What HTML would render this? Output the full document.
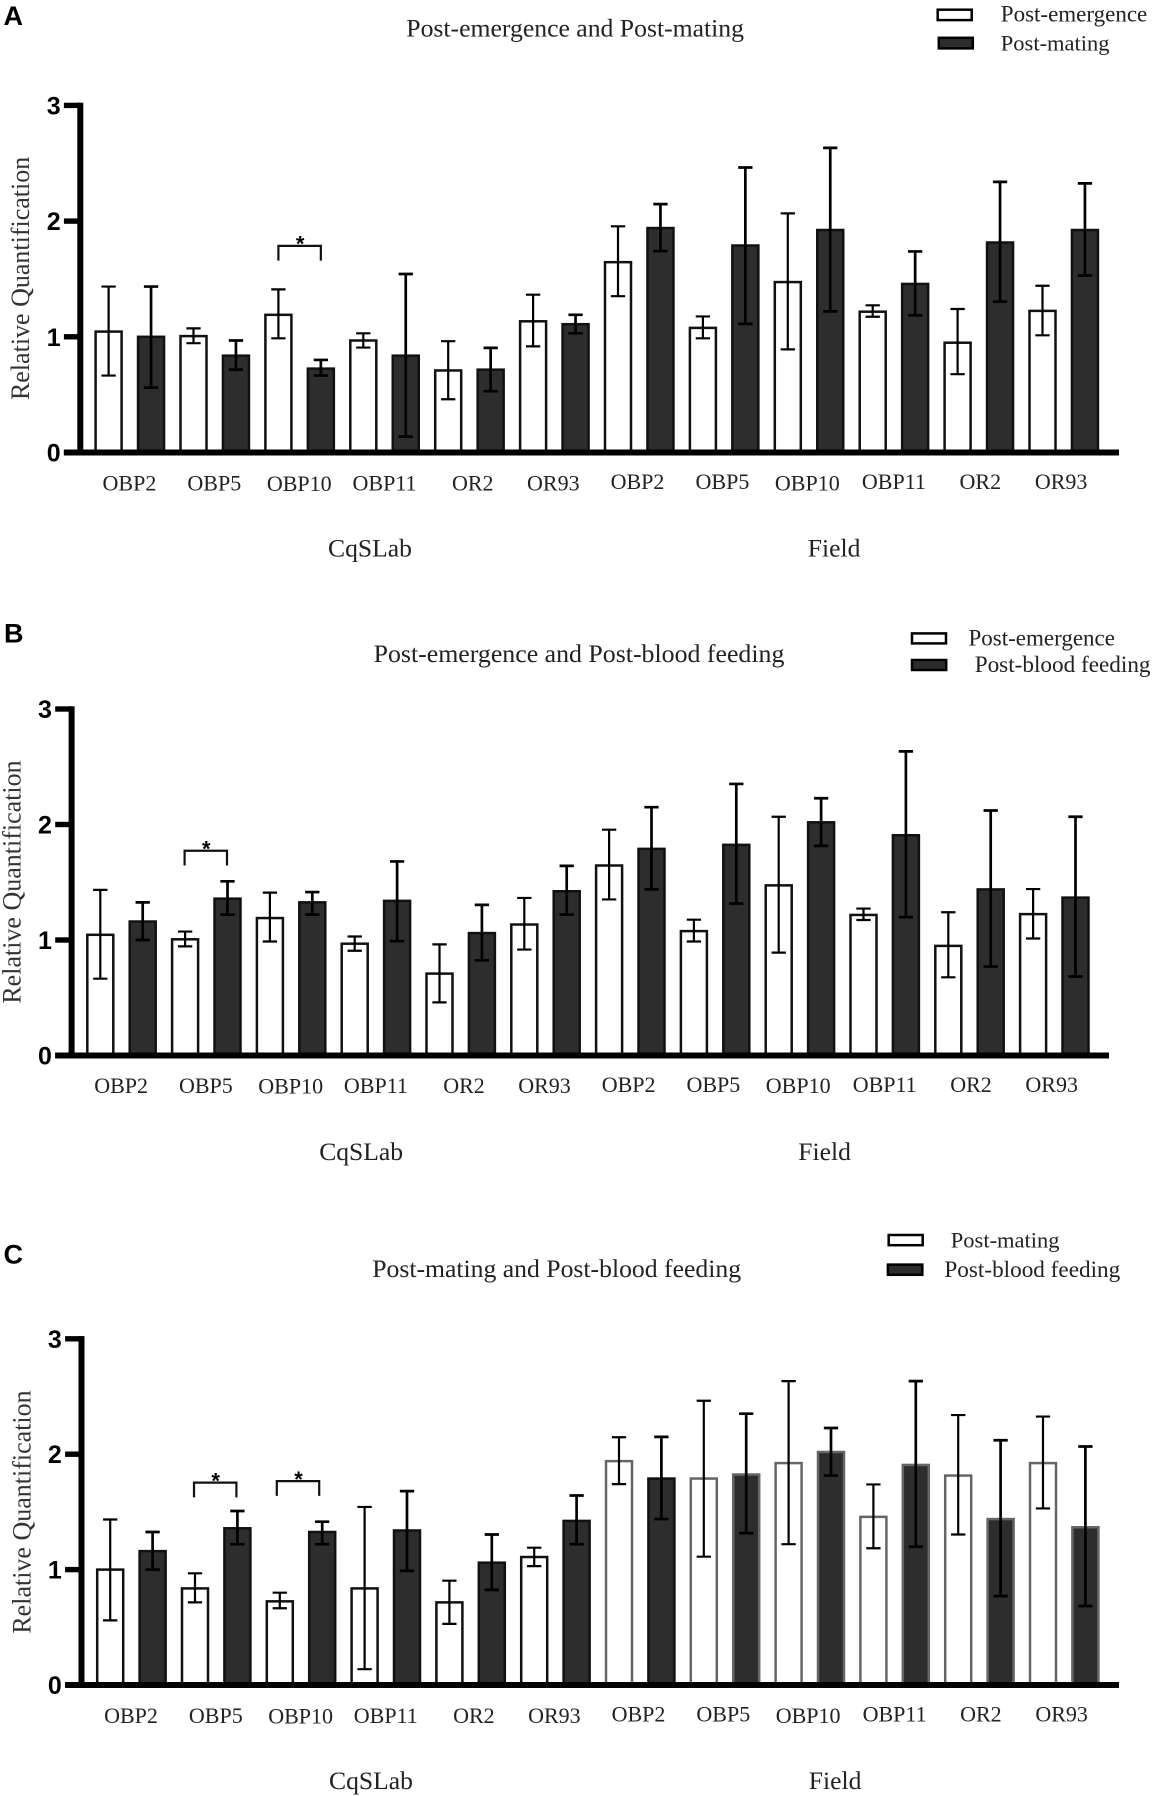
<!DOCTYPE html>
<html lang="en">
<head>
<meta charset="utf-8">
<title>Relative quantification of OBP and OR genes</title>
<style>
  html, body { margin: 0; padding: 0; background: #fff; }
  svg { display: block; }
  .serif { font-family: "Liberation Serif", serif; fill: #222; }
  .sans { font-family: "Liberation Sans", sans-serif; fill: #000; font-weight: bold; }
  .title { font-size: 25.7px; }
  .legend-text { font-size: 23px; }
  .group { font-size: 25.6px; }
  .ytitle { font-size: 26px; fill: #333; }
  .xlabel { font-size: 22px; }
  .letter { font-size: 27px; }
  .ytick { font-size: 25px; }
</style>
</head>
<body>
<svg id="figure" xmlns="http://www.w3.org/2000/svg" width="1153" height="1796" viewBox="0 0 1153 1796">
  <rect x="0" y="0" width="1153" height="1796" fill="#fff"/>

  <g id="panel-a">
    <text class="sans letter" x="3.5" y="25">A</text>
    <text class="serif title" x="406.3" y="36.3">Post-emergence and Post-mating</text>
    <rect x="937.7" y="9.7" width="34" height="10.4" fill="#fff" stroke="#000" stroke-width="2.5"/>
    <rect x="938.8" y="37.8" width="34" height="10.6" fill="#2d2d2d" stroke="#000" stroke-width="2.5"/>
    <text class="serif legend-text" x="1000.8" y="21.5">Post-emergence</text>
    <text class="serif legend-text" x="1000.8" y="50.3" style="font-size:22.5px">Post-mating</text>
    <text class="serif ytitle" text-anchor="middle" transform="translate(29 278.4) rotate(-90)">Relative Quantification</text>
    <text class="serif group" x="328" y="556.5">CqSLab</text>
    <text class="serif group" x="807.8" y="556.5">Field</text>
  </g>

  <g id="panel-b">
    <text class="sans letter" x="4" y="642.4">B</text>
    <text class="serif title" x="373.6" y="661.8" style="font-size:25.85px">Post-emergence and Post-blood feeding</text>
    <rect x="912" y="633.4" width="34" height="10" fill="#fff" stroke="#000" stroke-width="2.5"/>
    <rect x="912" y="660" width="34.2" height="10" fill="#2d2d2d" stroke="#000" stroke-width="2.5"/>
    <text class="serif legend-text" x="968.5" y="645.5">Post-emergence</text>
    <text class="serif legend-text" x="974.7" y="672.2" style="font-size:23.2px">Post-blood feeding</text>
    <text class="serif ytitle" text-anchor="middle" transform="translate(20.5 882) rotate(-90)">Relative Quantification</text>
    <text class="serif group" x="319.2" y="1160">CqSLab</text>
    <text class="serif group" x="798.3" y="1160">Field</text>
  </g>

  <g id="panel-c">
    <text class="sans letter" x="3.5" y="1263.5">C</text>
    <text class="serif title" x="372.2" y="1277">Post-mating and Post-blood feeding</text>
    <rect x="888.7" y="1235" width="34" height="10.2" fill="#fff" stroke="#000" stroke-width="2.5"/>
    <rect x="887.9" y="1264.6" width="34.4" height="10.2" fill="#2d2d2d" stroke="#000" stroke-width="2.5"/>
    <text class="serif legend-text" x="950.8" y="1247.4" style="font-size:22.5px">Post-mating</text>
    <text class="serif legend-text" x="944.4" y="1277" style="font-size:23.2px">Post-blood feeding</text>
    <text class="serif ytitle" text-anchor="middle" transform="translate(30.6 1512) rotate(-90)">Relative Quantification</text>
    <text class="serif group" x="329" y="1789">CqSLab</text>
    <text class="serif group" x="808.8" y="1789">Field</text>
  </g>
</svg>

<script>
// ---------- data ----------
const genes = ['OBP2','OBP5','OBP10','OBP11','OR2','OR93','OBP2','OBP5','OBP10','OBP11','OR2','OR93'];
const yTickValues = [0, 1, 2, 3];

const emergenceMean = [1.045, 1.006, 1.19, 0.968, 0.709, 1.134, 1.645, 1.077, 1.473, 1.217, 0.949, 1.224];
const emergenceHigh = [1.434, 1.073, 1.41, 1.03, 0.962, 1.364, 1.955, 1.176, 2.067, 1.272, 1.24, 1.441];
const emergenceLow  = [0.665, 0.945, 0.987, 0.907, 0.46, 0.917, 1.351, 0.987, 0.891, 1.173, 0.677, 1.013];

const matingMean = [1.0, 0.837, 0.725, 0.837, 0.716, 1.109, 1.94, 1.789, 1.923, 1.457, 1.815, 1.923];
const matingHigh = [1.434, 0.968, 0.8, 1.543, 0.904, 1.19, 2.147, 2.463, 2.633, 1.738, 2.339, 2.326];
const matingLow  = [0.56, 0.716, 0.665, 0.137, 0.53, 1.03, 1.741, 1.112, 1.22, 1.185, 1.304, 1.53];

const bloodMean = [1.16, 1.358, 1.326, 1.339, 1.06, 1.422, 1.789, 1.824, 2.019, 1.907, 1.438, 1.367];
const bloodHigh = [1.326, 1.508, 1.415, 1.68, 1.304, 1.642, 2.15, 2.351, 2.227, 2.633, 2.121, 2.067];
const bloodLow  = [1.0, 1.22, 1.22, 0.99, 0.824, 1.22, 1.438, 1.316, 1.815, 1.198, 0.77, 0.684];

// significance brackets: gene index and bracket heights in axis units
const sigGenesA = [2];
const sigTopsA = [1.786];
const sigGenesB = [1];
const sigTopsB = [1.773];
const sigGenesC = [1, 2];
const sigTopsC = [1.754, 1.767];

// ---------- layout ----------
const SVGNS = 'http://www.w3.org/2000/svg';
const panels = [
  { key: 'a', first: { mean: emergenceMean, high: emergenceHigh, low: emergenceLow }, second: { mean: matingMean, high: matingHigh, low: matingLow },
    sigGenes: sigGenesA, sigTops: sigTopsA, sigShift: 0,
    firstBar: 108.6, step: 42.45, y0: 452.5, y3: 105.4, axisX: 80.3, axisEnd: 1119, labelY: 490.6, softWhiteFrom: 99, softDarkFrom: 99 },
  { key: 'b', first: { mean: emergenceMean, high: emergenceHigh, low: emergenceLow }, second: { mean: bloodMean, high: bloodHigh, low: bloodLow },
    sigGenes: sigGenesB, sigTops: sigTopsB, sigShift: -1,
    firstBar: 100.3, step: 42.4, y0: 1055.5, y3: 709, axisX: 71.6, axisEnd: 1109, labelY: 1093.2, softWhiteFrom: 99, softDarkFrom: 99 },
  { key: 'c', first: { mean: matingMean, high: matingHigh, low: matingLow }, second: { mean: bloodMean, high: bloodHigh, low: bloodLow },
    sigGenes: sigGenesC, sigTops: sigTopsC, sigShift: -2,
    firstBar: 110.2, step: 42.4, y0: 1685, y3: 1338.8, axisX: 81.5, axisEnd: 1119, labelY: 1722.8, softWhiteFrom: 6, softDarkFrom: 7 }
];
const BAR_W = 26;
const CAP_W = 14.3;
const DARK = '#2d2d2d';

function setAttrs(el, attrs) {
  for (const k in attrs) el.setAttribute(k, attrs[k]);
  return el;
}
function svgEl(parent, tag, attrs) {
  const el = document.createElementNS(SVGNS, tag);
  setAttrs(el, attrs);
  parent.appendChild(el);
  return el;
}
function xScale(p, geneIndex, seriesIndex) {
  return p.firstBar + p.step * (2 * geneIndex + seriesIndex);
}
function yScale(p, value) {
  return p.y0 - (p.y0 - p.y3) * value / 3;
}
function labelNudge(geneIndex) {
  const name = genes[geneIndex];
  if (name === 'OR2') return geneIndex < 6 ? 3.3 : 1.5;
  if (name === 'OR93') return geneIndex < 6 ? -1 : -2.6;
  if (name === 'OBP11') return 0;
  return geneIndex < 6 ? -0.4 : -1.7;
}
function labelLift(geneIndex) {
  const name = genes[geneIndex];
  if (name === 'OBP10') return geneIndex < 6 ? -0.5 : 0;
  return geneIndex < 6 ? 0 : 1.4;
}

function drawSeries(p, group, series, seriesIndex) {
  const barsGroup = svgEl(group, 'g', {});
  
  
  series.mean.forEach(function (mean, i) {
    const cx = xScale(p, i, seriesIndex);
    const top = yScale(p, mean);
    const soft = seriesIndex === 0 ? i >= p.softWhiteFrom : i >= p.softDarkFrom;
    const bar = svgEl(barsGroup, 'rect', {
      x: cx - BAR_W / 2, y: top, width: BAR_W, height: p.y0 - top,
      fill: seriesIndex === 0 ? '#fff' : DARK,
      stroke: soft ? '#666' : '#111', 'stroke-width': 2.5
    });
    
    

    const yHigh = yScale(p, series.high[i]);
    const yLow = yScale(p, series.low[i]);
    const err = svgEl(barsGroup, 'path', {
      d: 'M' + (cx - CAP_W / 2) + ' ' + yHigh + 'H' + (cx + CAP_W / 2) +
         'M' + cx + ' ' + yHigh + 'V' + yLow +
         'M' + (cx - CAP_W / 2) + ' ' + yLow + 'H' + (cx + CAP_W / 2),
      fill: 'none', stroke: '#000', 'stroke-width': seriesIndex === 0 ? 2.2 : 2.7
    });
    
    
  });
}

function drawAxes(p, group) {
  const yAxis = svgEl(group, 'rect', {
    x: p.axisX - 3, y: p.y3 - 2.7, width: 6, height: p.y0 - p.y3 + 5.7, fill: '#000'
  });
  
  

  const xAxis = svgEl(group, 'rect', {
    x: p.axisX - 16.4, y: p.y0 - 3, width: p.axisEnd - p.axisX + 16.4, height: 6, fill: '#000'
  });
  
  

  yTickValues.forEach(function (v) {
    const y = yScale(p, v);
    const tick = svgEl(group, 'rect', {
      x: p.axisX - 16.4, y: y - 2.7, width: 16.4, height: 5.4, fill: '#000'
    });
    
    

    const label = svgEl(group, 'text', {
      x: p.axisX - 19.7, y: y + 9, 'text-anchor': 'end', 'class': 'sans ytick'
    });
    label.textContent = String(v);
    
    
  });

  genes.forEach(function (name, i) {
    const cx = xScale(p, i, 0.5) + labelNudge(i);
    const label = svgEl(group, 'text', {
      x: cx, y: p.labelY - labelLift(i), 'text-anchor': 'middle', 'class': 'serif xlabel'
    });
    label.textContent = name;
    
    
  });
}

function drawBrackets(p, group) {
  p.sigGenes.forEach(function (geneIndex, k) {
    const x1 = xScale(p, geneIndex, 0) + p.sigShift * (k + 0.5);
    const x2 = xScale(p, geneIndex, 1) + p.sigShift * (k + 0.5);
    const top = yScale(p, p.sigTops[k]);
    const bottom = yScale(p, p.sigTops[k] - 0.128);
    const bracket = svgEl(group, 'path', {
      d: 'M' + x1 + ' ' + bottom + 'V' + top + 'H' + x2 + 'V' + bottom,
      fill: 'none', stroke: '#111', 'stroke-width': 2.2
    });
    
    

    const star = svgEl(group, 'text', {
      x: (x1 + x2) / 2 + 0.5, y: top + 5.8, 'text-anchor': 'middle', 'class': 'sans',
      'font-size': 22
    });
    star.textContent = '*';
    
    
  });
}

panels.forEach(function (p) {
  const group = document.getElementById('panel-' + p.key);
  drawSeries(p, group, p.first, 0);
  drawSeries(p, group, p.second, 1);
  drawAxes(p, group);
  drawBrackets(p, group);
});
</script>
</body>
</html>
